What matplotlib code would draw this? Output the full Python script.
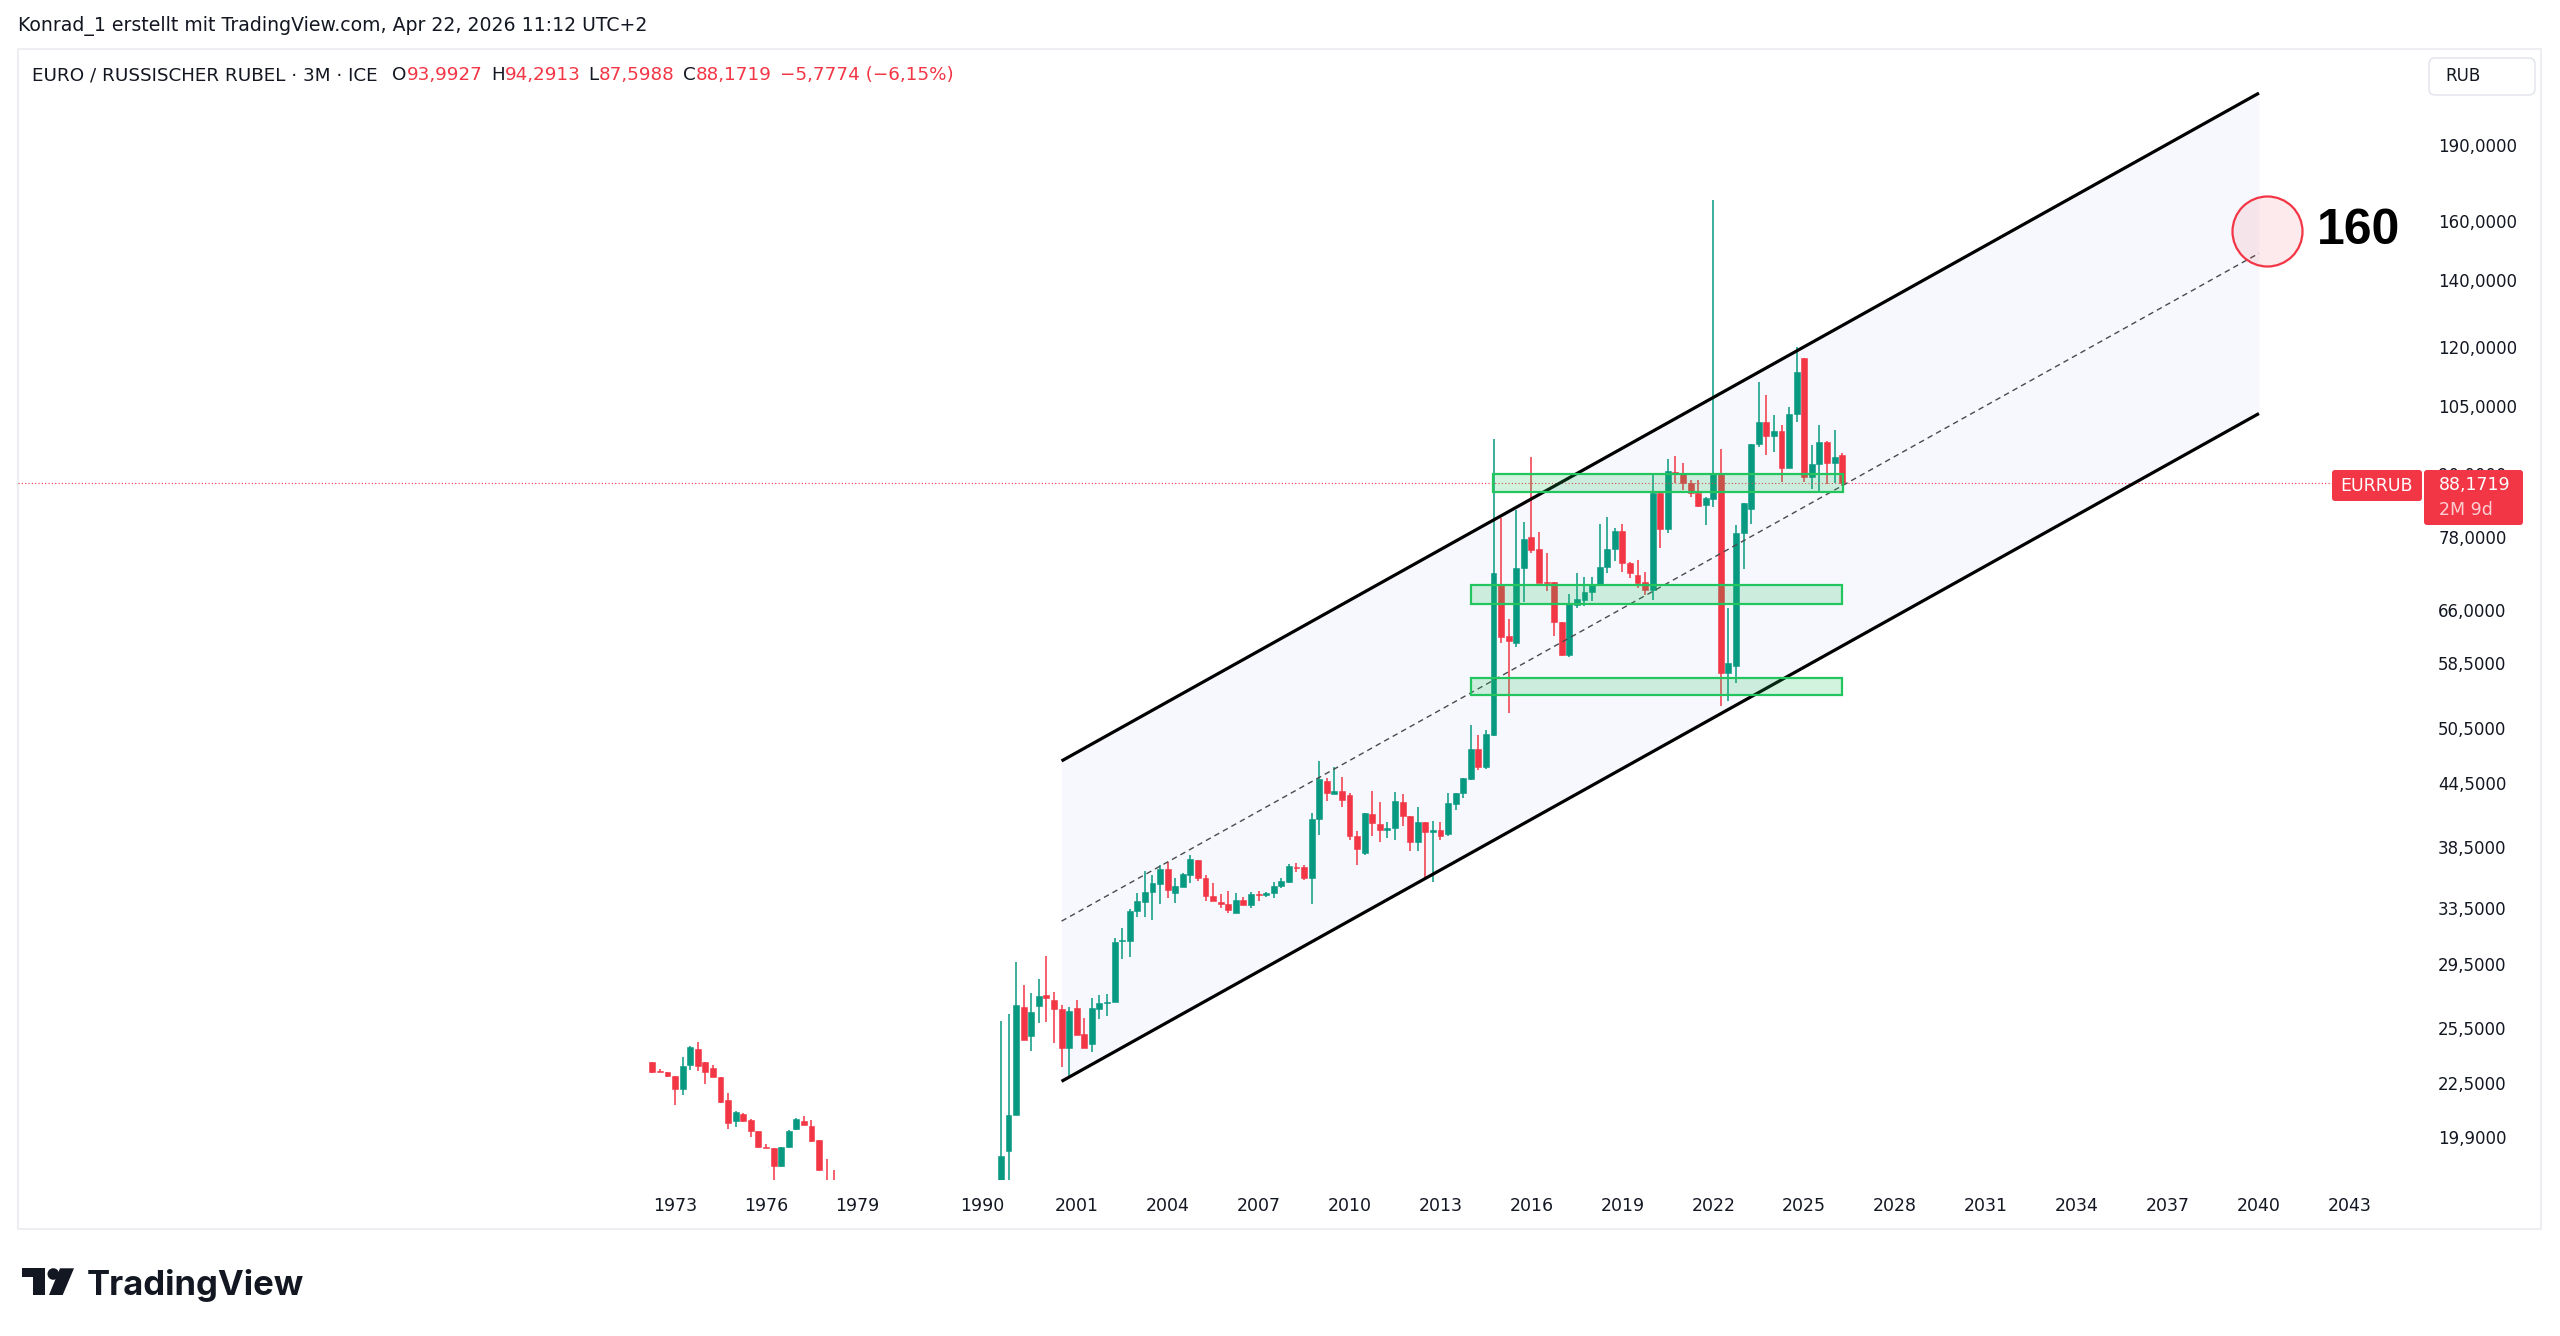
import numpy as np
import matplotlib.pyplot as plt
from matplotlib.patches import FancyBboxPatch, Polygon, Circle, Rectangle

W, H = 2560, 1336
DPI = 100

GREEN = '#089981'
RED = '#F23645'
INK = '#131722'

# quarterly candles, old ICE series 1972 Q2 .. 1978 Q2 (the rest is below the view)
old_start = (1972, 2)
old_o = [23.56, 23.12, 23.03, 22.87, 22.17, 23.40, 24.29, 23.56, 23.25, 22.77, 21.62, 20.61, 20.97,
         20.67, 20.17, 19.45, 19.41, 18.61, 19.42, 20.23, 20.62, 20.41, 19.77, 17.80, 17.30]
old_h = [23.61, 23.22, 23.07, 22.87, 23.83, 24.45, 24.66, 23.56, 23.40, 22.77, 22.00, 21.10, 21.00,
         20.73, 20.17, 19.56, 19.41, 19.45, 20.20, 20.78, 20.86, 20.67, 19.77, 18.93, 18.44]
old_l = [23.00, 23.03, 22.80, 21.38, 21.89, 23.17, 23.13, 22.41, 22.80, 21.50, 20.23, 20.32, 20.58,
         19.88, 19.41, 19.38, 18.05, 18.58, 19.41, 20.20, 20.44, 19.65, 18.41, 16.80, 16.50]
old_c = [23.03, 23.07, 22.86, 22.17, 23.37, 24.40, 23.36, 23.07, 22.81, 21.53, 20.54, 21.05, 20.61,
         20.14, 19.42, 19.41, 18.61, 19.42, 20.17, 20.70, 20.44, 19.72, 18.44, 17.20, 16.90]

# quarterly candles 1998 Q3 .. 2026 Q2
new_start = (1998, 3)
new_o = [7.00, 19.26, 20.89, 26.71, 25.02, 26.81, 27.44, 27.16, 26.59, 24.33, 26.65, 25.12, 24.55, 26.63,
         26.97, 27.01, 31.03, 31.08, 33.26, 33.97, 34.73, 35.39, 36.57, 34.62, 35.15, 36.07, 37.35, 35.88,
         34.41, 33.97, 33.79, 33.13, 34.07, 33.71, 34.60, 34.49, 34.62, 35.23, 35.53, 36.79, 36.79, 35.83,
         40.97, 44.70, 43.40, 43.70, 43.30, 39.47, 37.98, 41.43, 40.50, 39.98, 40.13, 42.65, 41.31, 38.88,
         40.75, 39.83, 39.98, 39.59, 42.39, 43.47, 44.90, 48.04, 46.11, 49.64, 69.84, 62.19, 61.16, 72.53,
         77.96, 75.80, 70.38, 70.38, 64.15, 59.56, 66.73, 67.50, 68.79, 69.95, 72.82, 75.75, 78.98, 73.48,
         71.40, 70.38, 69.05, 86.18, 79.33, 90.39, 89.85, 88.16, 86.18, 83.80, 84.90, 89.85, 57.21, 58.08,
         78.56, 83.10, 96.27, 101.29, 98.12, 99.24, 91.22, 103.00, 117.20, 89.38, 91.95, 96.78, 92.13,
         93.9927]
new_h = [25.91, 26.30, 29.59, 28.10, 27.57, 28.49, 30.00, 27.68, 26.85, 26.75, 27.16, 26.09, 27.30, 27.46,
         27.52, 31.30, 31.97, 33.38, 34.68, 36.46, 36.07, 36.92, 37.20, 35.83, 36.23, 37.78, 37.35, 36.10,
         35.42, 34.54, 34.78, 34.62, 34.33, 34.76, 34.81, 34.76, 35.50, 35.83, 36.98, 37.12, 36.92, 41.60,
         46.82, 44.97, 46.19, 45.14, 43.47, 39.90, 41.60, 43.70, 42.58, 40.70, 43.64, 43.39, 41.31, 42.10,
         40.75, 40.81, 40.70, 43.54, 43.54, 45.04, 50.78, 49.70, 50.16, 97.30, 81.29, 64.59, 82.85, 80.67,
         93.39, 78.75, 75.09, 70.38, 64.15, 68.37, 71.72, 71.18, 71.07, 80.19, 81.60, 79.60, 80.19, 73.65,
         73.96, 71.99, 89.72, 86.37, 92.97, 93.68, 92.27, 88.69, 88.69, 85.41, 167.60, 95.11, 66.23, 80.00,
         84.11, 96.27, 110.95, 107.63, 102.90, 100.50, 104.70, 120.20, 117.20, 96.00, 100.50, 96.90, 99.50,
         94.2913]
new_l = [6.90, 17.90, 20.89, 24.79, 24.20, 25.77, 25.85, 24.61, 23.30, 22.86, 25.08, 24.33, 24.14, 26.00,
         26.20, 27.01, 29.82, 29.98, 32.83, 32.83, 32.61, 33.76, 34.28, 33.84, 35.15, 35.42, 35.61, 34.02,
         34.02, 33.45, 33.08, 33.13, 33.71, 33.45, 34.02, 34.36, 34.23, 35.02, 35.42, 36.37, 35.69, 33.76,
         39.50, 42.74, 43.40, 42.11, 39.10, 36.93, 37.80, 39.47, 38.88, 39.28, 39.12, 40.37, 38.12, 38.12,
         35.82, 35.49, 39.12, 39.47, 41.85, 42.99, 44.80, 45.83, 45.90, 49.50, 61.16, 52.16, 60.64, 67.23,
         75.09, 70.22, 68.95, 62.19, 59.43, 59.25, 66.30, 66.57, 67.40, 69.84, 71.83, 73.85, 71.99, 70.96,
         69.31, 68.26, 67.50, 76.04, 78.55, 88.13, 86.69, 85.41, 83.48, 80.07, 83.36, 53.02, 53.64, 55.84,
         72.38, 80.26, 95.69, 94.00, 94.58, 88.34, 91.10, 101.20, 88.40, 86.82, 86.25, 87.90, 88.13,
         87.5988]
new_c = [19.04, 20.90, 26.83, 24.79, 26.41, 27.40, 27.26, 26.61, 24.37, 26.49, 25.08, 24.33, 26.65, 26.99,
         27.05, 31.01, 31.10, 33.28, 34.02, 34.73, 35.44, 36.57, 34.89, 35.23, 36.15, 37.41, 35.88, 34.44,
         34.02, 33.79, 33.33, 34.10, 33.71, 34.54, 34.49, 34.68, 35.23, 35.61, 36.84, 36.70, 35.83, 40.97,
         44.87, 43.47, 43.70, 42.81, 39.47, 38.30, 41.53, 40.60, 39.98, 40.19, 42.75, 41.31, 38.93, 40.75,
         39.83, 39.98, 39.47, 42.49, 43.47, 44.97, 48.04, 46.18, 49.71, 71.72, 62.10, 61.53, 72.53, 77.56,
         75.63, 70.22, 70.22, 64.25, 59.56, 66.89, 67.60, 68.79, 69.95, 72.82, 75.75, 78.98, 73.37, 71.72,
         70.22, 69.05, 86.18, 79.33, 90.60, 89.85, 88.16, 86.18, 83.61, 85.09, 89.85, 57.21, 58.52, 78.56,
         84.11, 96.27, 101.29, 98.12, 99.24, 91.22, 103.00, 113.40, 89.28, 92.10, 96.78, 92.27, 93.54,
         88.1719]

# drawings on the chart
channel_idx = [54, 212]
channel_top = [46.8, 214.0]
channel_bot = [22.57, 103.2]
zones = [(110.9, 157.05, 86.3, 89.9), (108.0, 157.0, 66.9, 69.8), (108.0, 157.0, 54.4, 56.5)]
target_idx, target_price, target_label = 213.0, 156.5, '160'

last_price = 88.1719
price_ticks = [190, 160, 140, 120, 105, 90, 78, 66, 58.5, 50.5, 44.5, 38.5, 33.5, 29.5, 25.5, 22.5, 19.9]
year_ticks = [1973, 1976, 1979, 1990, 2001, 2004, 2007, 2010, 2013, 2016, 2019, 2022, 2025, 2028,
              2031, 2034, 2037, 2040, 2043]
gap_ticks = {1990: 43.6}   # the 1979-1998 stretch only holds a handful of bars


def bar_index(year, q=1):
    # TradingView spaces bars by index, not by time
    if year in gap_ticks:
        return gap_ticks[year]
    if year < 1990:
        return (year - 1972) * 4 + (q - 2)
    return 46 + (year - 1998) * 4 + (q - 3)


def quarters(start, n):
    y, q = start
    out = []
    for _ in range(n):
        out.append(bar_index(y, q))
        q += 1
        if q > 4:
            q, y = 1, y + 1
    return np.array(out, dtype=float)


def draw_candles(ax, start, o, h, l, c):
    o, h, l, c = map(np.asarray, (o, h, l, c))
    xs = quarters(start, len(o))
    col = np.where(c >= o, GREEN, RED)
    ax.vlines(xs, l, h, colors=col, lw=1.1, zorder=2)
    lo = np.minimum(o, c)
    hi = np.maximum(o, c)
    ax.bar(xs, hi - lo, bottom=lo, width=0.78, color=col, edgecolor=col, lw=0.4, zorder=2.1)


def fig_xy(x, y):
    return x / W, 1 - y / H


def inch(x, y):
    return x / DPI, (H - y) / DPI


fig = plt.figure(figsize=(W / DPI, H / DPI), dpi=DPI)
fig.patch.set_facecolor('white')

# outer frame
fx, fy = inch(18, 1229)
fig.add_artist(Rectangle((fx, fy), (2541 - 18) / DPI, (1229 - 49) / DPI, transform=fig.dpi_scale_trans,
                         fill=False, edgecolor='#EDEEF1', lw=1.5, zorder=-1))

ax = fig.add_axes([18 / W, (H - 1180) / H, (2409 - 18) / W, (1180 - 49) / H])
ax.set_facecolor('none')
ax.set_yscale('log')
ax.set_xlim(-83.7, 231.8)
ax.set_ylim(18.03, 236.6)
for s in ax.spines.values():
    s.set_visible(False)

# channel
cx = np.array(channel_idx, dtype=float)
top = np.array(channel_top)
bot = np.array(channel_bot)
ax.fill_between(cx, bot, top, color='#F7F8FE', lw=0, zorder=1)
ax.plot(cx, top, color='black', lw=2.3, solid_capstyle='butt', zorder=3)
ax.plot(cx, bot, color='black', lw=2.3, solid_capstyle='butt', zorder=3)
ax.plot(cx, np.sqrt(top * bot), color='#4a4a4a', lw=1.0, ls=(0, (4, 3)), zorder=3)

draw_candles(ax, old_start, old_o, old_h, old_l, old_c)
draw_candles(ax, new_start, new_o, new_h, new_l, new_c)

# support / resistance zones
for x0, x1, lo, hi in zones:
    ax.add_patch(Rectangle((x0, lo), x1 - x0, hi - lo, facecolor=(34 / 255, 197 / 255, 94 / 255, 0.2),
                           edgecolor='#22C55E', lw=1.6, zorder=4))

ax.axhline(last_price, color=RED, lw=0.8, ls=(0, (1, 2)), zorder=2.5)

# target circle
ax.scatter([target_idx], [target_price], s=2540, facecolor=(242 / 255, 54 / 255, 69 / 255, 0.1),
           edgecolor=RED, lw=1.6, zorder=5)
ax.text(target_idx + 6.7, target_price, target_label, fontsize=36, fontweight='bold',
        family='Liberation Sans', color='black', va='center', ha='left', zorder=6)

# axes ticks
ax.yaxis.tick_right()
ax.yaxis.set_minor_locator(plt.NullLocator())
ax.yaxis.set_minor_formatter(plt.NullFormatter())
ax.set_yticks(price_ticks)
ax.set_yticklabels([f'{v:.4f}'.replace('.', ',') for v in price_ticks])
ax.set_xticks([bar_index(y) for y in year_ticks])
ax.set_xticklabels([str(y) for y in year_ticks])
ax.tick_params(axis='y', length=0, pad=21, labelsize=12, labelcolor=INK)
ax.tick_params(axis='x', length=0, pad=12, labelsize=12.5, labelcolor=INK)

# header
x, y = fig_xy(18, 26)
fig.text(x, y, 'Konrad_1 erstellt mit TradingView.com, Apr 22, 2026 11:12 UTC+2', fontsize=13.6,
         color=INK, va='center', ha='left')
x, y = fig_xy(32, 75)
prev = fig.text(x, y, 'EURO / RUSSISCHER RUBEL · 3M · ICE', fontsize=13.2, color=INK, va='center', ha='left')
pieces = [('O', INK, 10.5), ('93,9927', RED, 0), ('H', INK, 6), ('94,2913', RED, 0),
          ('L', INK, 6), ('87,5988', RED, 0), ('C', INK, 6), ('88,1719', RED, 0),
          ('−5,7774 (−6,15%)', RED, 6)]
for s, c, gap in pieces:
    prev = ax.annotate(s, xy=(1, 0), xycoords=prev, xytext=(gap, 0), textcoords='offset points',
                       fontsize=13.2, color=c, va='bottom', ha='left', annotation_clip=False)

# currency button
bx, by = inch(2429, 95)
fig.add_artist(FancyBboxPatch((bx, by), 1.06, 0.37, boxstyle='round,pad=0,rounding_size=0.06',
                              transform=fig.dpi_scale_trans, facecolor='white', edgecolor='#E0E3EB',
                              lw=1.0, zorder=10))
x, y = fig_xy(2445, 76)
fig.text(x, y, 'RUB', fontsize=12, color=INK, va='center', ha='left', zorder=11)

# last price labels (they cover the 90,0000 tick like in the app)
bx, by = inch(2332, 501)
fig.add_artist(FancyBboxPatch((bx, by), 0.90, 0.31, boxstyle='round,pad=0,rounding_size=0.03',
                              transform=fig.dpi_scale_trans, facecolor=RED, edgecolor='none', zorder=10))
bx, by = inch(2424, 525)
fig.add_artist(FancyBboxPatch((bx, by), 0.99, 0.55, boxstyle='round,pad=0,rounding_size=0.03',
                              transform=fig.dpi_scale_trans, facecolor=RED, edgecolor='none', zorder=10))
x, y = fig_xy(2377, 486)
fig.text(x, y, 'EURRUB', fontsize=12.5, color='white', va='center', ha='center', zorder=11)
x, y = fig_xy(2439, 485)
fig.text(x, y, f'{last_price:.4f}'.replace('.', ','), fontsize=12.5, color='white', va='center',
         ha='left', zorder=11)
x, y = fig_xy(2439, 510)
fig.text(x, y, '2M 9d', fontsize=12.5, color='#FBD0D4', va='center', ha='left', zorder=11)

# TradingView logo
tr = fig.dpi_scale_trans
fig.add_artist(Polygon([inch(21.7, 1268.3), inch(45, 1268.3), inch(45, 1295), inch(33.3, 1295),
                        inch(33.3, 1277.3), inch(21.7, 1277.3)], closed=True, transform=tr,
                       facecolor=INK, edgecolor='none'))
fig.add_artist(Circle(inch(53.3, 1274), 5.8 / DPI, transform=tr, facecolor=INK, edgecolor='none'))
fig.add_artist(Polygon([inch(60, 1268.3), inch(74, 1268.3), inch(62.7, 1295), inch(49, 1295)],
                       closed=True, transform=tr, facecolor=INK, edgecolor='none'))
x, y = fig_xy(87, 1295)
fig.text(x, y, 'TradingView', fontsize=25, fontweight='bold', family='Inter', color=INK,
         va='baseline', ha='left')

fig.savefig('out.png', dpi=DPI, facecolor='white')
